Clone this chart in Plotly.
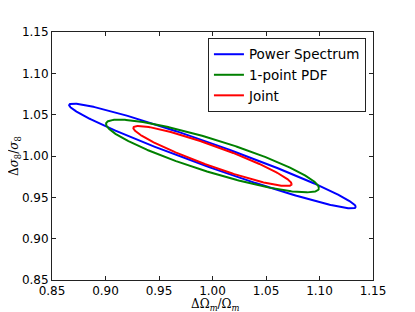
import numpy as np
import plotly.graph_objects as go

# Fisher-forecast ellipse parameters
series = ["Power Spectrum", "1-point PDF", "Joint"]
colors = ["#0000ff", "#008000", "#ff0000"]
center_om = [1.0, 1.0, 1.0]
center_s8 = [1.0, 1.0, 1.0]
sigma_om = [0.134, 0.0995, 0.074]
sigma_s8 = [0.0634, 0.0440, 0.0364]
rho = [-0.972, -0.882, -0.934]

x_ticks = [0.85, 0.90, 0.95, 1.00, 1.05, 1.10, 1.15]
y_ticks = [0.85, 0.90, 0.95, 1.00, 1.05, 1.10, 1.15]
x_title = "ΔΩ<sub><i>m</i></sub>/Ω<sub><i>m</i></sub>"
y_title = "Δ<i>σ</i><sub>8</sub>/<i>σ</i><sub>8</sub>"

t = np.linspace(0, 2 * np.pi, 400)
fig = go.Figure()
for name, col, cx, cy, sx, sy, r in zip(series, colors, center_om, center_s8, sigma_om, sigma_s8, rho):
    x = cx + sx * np.cos(t)
    y = cy + sy * (r * np.cos(t) + np.sqrt(1 - r * r) * np.sin(t))
    fig.add_trace(go.Scatter(x=x, y=y, mode="lines", name=name,
                             line=dict(color=col, width=2)))

axis_common = dict(showline=True, linecolor="#222222", linewidth=1, mirror="ticks",
                   ticks="inside", ticklen=4, tickcolor="#222222", showgrid=False,
                   zeroline=False, automargin=False,
                   tickfont=dict(family="DejaVu Sans", size=12, color="#000"))
title_font = dict(family="DejaVu Serif", size=12, color="#000")
# the page body has an 8px margin, so the figure is offset by (8, 8) in the window
fig.update_layout(
    width=407, height=304,
    margin=dict(l=44, r=42, t=24, b=32),
    paper_bgcolor="white", plot_bgcolor="white",
    xaxis=dict(range=[0.85, 1.15], tickvals=x_ticks, ticktext=[f"{v:.2f}" for v in x_ticks],
               **axis_common),
    yaxis=dict(range=[0.85, 1.15], tickvals=y_ticks, ticktext=[f"{v:.2f}" for v in y_ticks],
               **axis_common),
    legend=dict(x=0.978, y=0.976, xanchor="right", yanchor="top",
                bgcolor="white", bordercolor="#222222", borderwidth=1,
                font=dict(family="DejaVu Sans", size=13.5, color="#000")),
    showlegend=True,
    annotations=[
        dict(text=x_title, xref="paper", yref="paper", x=0.5, y=0, yshift=-25, xshift=3,
             xanchor="center", yanchor="middle", showarrow=False, font=title_font),
        dict(text=y_title, xref="paper", yref="paper", x=0, y=0.5, xshift=-37,
             xanchor="center", yanchor="middle", textangle=-90, showarrow=False,
             font=title_font),
    ],
)
fig.write_html("out.html")
